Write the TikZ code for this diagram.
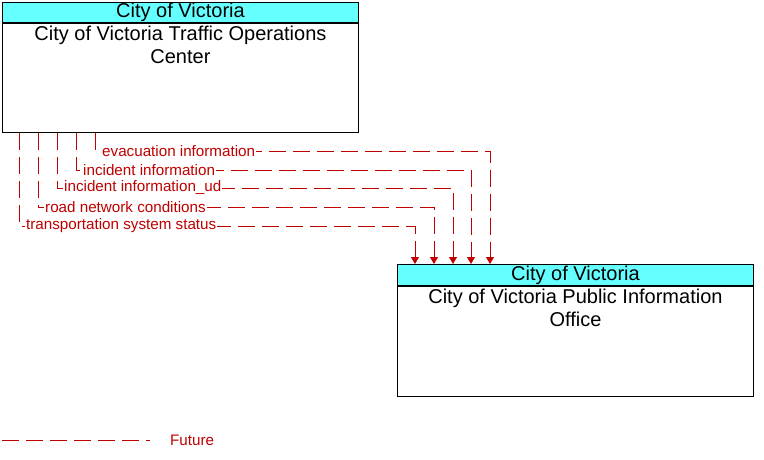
\documentclass[tikz,border=0pt]{standalone}
\usepackage{fontspec}
\setmainfont{Liberation Sans}
\usepackage{tikz}
\usetikzlibrary{arrows.meta,positioning}
\definecolor{rojo}{HTML}{C00000}
\definecolor{cian}{HTML}{66FFFF}

\begin{document}
\begin{tikzpicture}[x=1pt,y=-1pt,
  every node/.style={font=\fontsize{15.2}{17}\selectfont},
  cabecera/.style={draw=black,fill=cian,line width=0.9pt,minimum width=356pt,
                   minimum height=20pt,inner sep=0pt,font=\fontsize{20}{20}\selectfont},
  cuerpo/.style={draw=black,fill=white,line width=0.9pt,minimum width=356pt,inner sep=0pt},
  texto/.style={align=center,inner sep=0pt,font=\fontsize{20}{23}\selectfont},
  flujo/.style={draw=rojo,line width=0.8pt,dash pattern=on 17pt off 7pt},
  punta/.style={-{Triangle[length=7pt,width=8pt]}},
  etiqueta/.style={fill=white,text=rojo,inner sep=1pt,anchor=west}
]
\useasboundingbox (0,0) rectangle (764,460);
% centros
\node[cabecera,anchor=north west] (toch) at (2,2) {City of Victoria};
\node[cuerpo,below=0pt of toch,minimum height=109pt] (toc) {};
\node[texto,below=3pt of toch] (toct) {City of Victoria Traffic Operations\\Center};
\node[cabecera,anchor=north west,minimum height=21pt] (pioh) at (397,264) {City of Victoria};
\node[cuerpo,below=0pt of pioh,minimum height=110pt] (pio) {};
\node[texto,below=3pt of pioh] (piot) {City of Victoria Public Information\\Office};
% flujos
\foreach \xs/\xe/\y/\txt [count=\i] in
  {95/490/151/evacuation information,76/471/170/incident information,
   57/453/188/incident information\_ud,38/434/207/road network conditions,
   19/415/226/transportation system status} {
  \draw[flujo,punta] (\xs,0 |- toc.south) |- (\xe,\y) -- (\xe,0 |- pioh.north);
  \node[etiqueta] (f\i) at (\xs+6,\y) {\txt};
}
% leyenda
\coordinate (l0) at (2,440);
\coordinate (l1) at (150,440);
\draw[flujo] (l0) -- (l1);
\node[text=rojo,anchor=west,inner sep=0pt] (fut) at (170,440) {Future};
\end{tikzpicture}
\end{document}
